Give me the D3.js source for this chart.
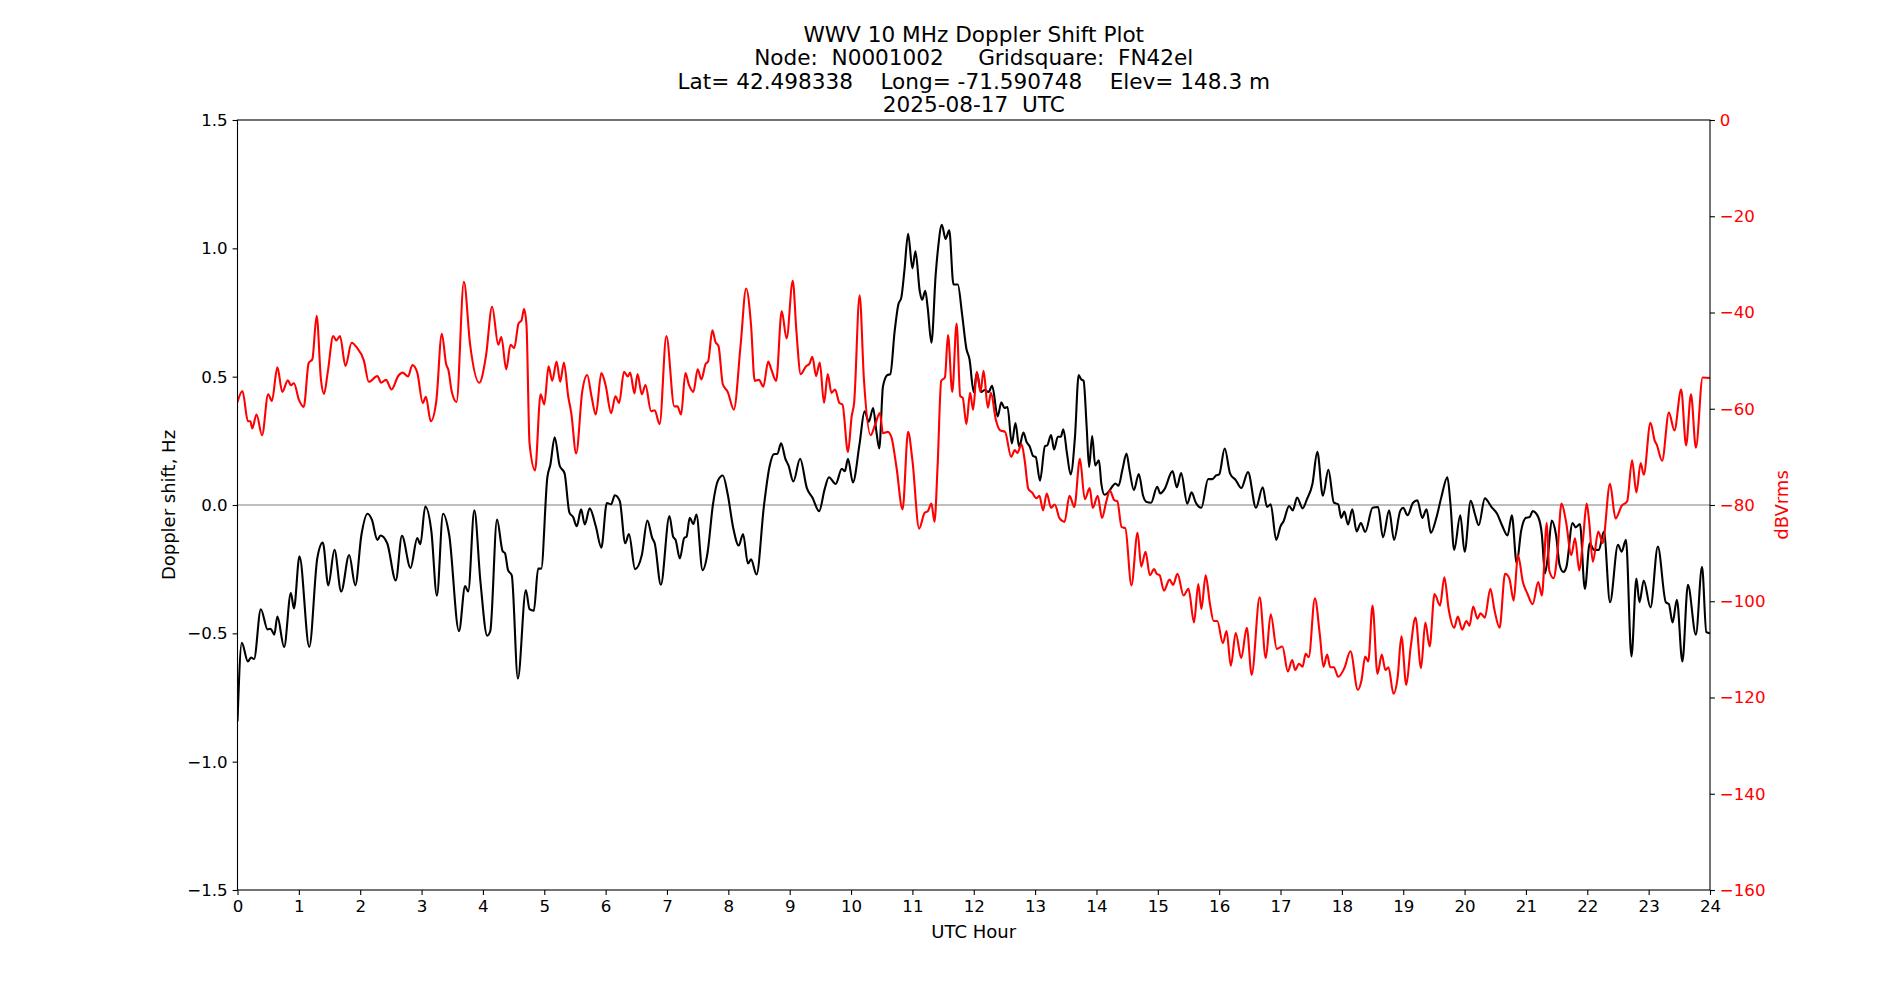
<!DOCTYPE html>
<html><head><meta charset="utf-8">
<script src="https://cdn.jsdelivr.net/npm/d3@7"></script>
<style>
body{margin:0;background:#fff;}
svg{display:block;font-family:"DejaVu Sans",sans-serif;}
</style>
</head><body>
<svg id="chart" width="1900" height="1000"></svg>
<script>
const titleLines = [
  "WWV 10 MHz Doppler Shift Plot",
  "Node:  N0001002     Gridsquare:  FN42el",
  "Lat= 42.498338    Long= -71.590748    Elev= 148.3 m",
  "2025-08-17  UTC"
];
const xLabel = "UTC Hour";
const leftLabel = "Doppler shift, Hz";
const rightLabel = "dBVrms";
const hourTicks = [0,1,2,3,4,5,6,7,8,9,10,11,12,13,14,15,16,17,18,19,20,21,22,23,24];
const dopplerTicks = [-1.5,-1.0,-0.5,0,0.5,1.0,1.5];
const powerTicks = [0,-20,-40,-60,-80,-100,-120,-140,-160];

// [UTC hour, Doppler shift Hz]
const dopplerPoints = [[0.00,-0.84],[0.07,-0.537],[0.17,-0.61],[0.22,-0.594],[0.27,-0.60],[0.38,-0.406],[0.49,-0.485],[0.54,-0.482],[0.60,-0.505],[0.65,-0.435],[0.76,-0.553],[0.87,-0.343],[0.92,-0.403],[1.01,-0.20],[1.17,-0.553],[1.30,-0.208],[1.39,-0.146],[1.48,-0.313],[1.58,-0.175],[1.69,-0.337],[1.82,-0.195],[1.92,-0.313],[2.02,-0.116],[2.12,-0.034],[2.19,-0.057],[2.28,-0.136],[2.33,-0.119],[2.44,-0.149],[2.58,-0.294],[2.68,-0.12],[2.82,-0.245],[2.93,-0.129],[2.98,-0.153],[3.06,-0.006],[3.16,-0.103],[3.25,-0.353],[3.35,-0.034],[3.45,-0.116],[3.61,-0.491],[3.71,-0.316],[3.76,-0.337],[3.86,-0.021],[3.96,-0.30],[4.07,-0.509],[4.12,-0.491],[4.23,-0.057],[4.32,-0.179],[4.36,-0.188],[4.41,-0.254],[4.47,-0.274],[4.57,-0.676],[4.70,-0.331],[4.76,-0.406],[4.83,-0.412],[4.90,-0.248],[4.95,-0.248],[5.05,0.108],[5.10,0.158],[5.17,0.264],[5.25,0.154],[5.33,0.124],[5.41,-0.03],[5.47,-0.047],[5.53,-0.083],[5.60,-0.017],[5.66,-0.076],[5.74,-0.013],[5.84,-0.083],[5.93,-0.166],[6.02,0.008],[6.09,0.003],[6.15,0.038],[6.23,0.016],[6.32,-0.149],[6.38,-0.113],[6.48,-0.25],[6.59,-0.195],[6.68,-0.061],[6.76,-0.129],[6.80,-0.149],[6.90,-0.311],[7.04,-0.043],[7.10,-0.123],[7.14,-0.136],[7.21,-0.208],[7.28,-0.129],[7.32,-0.123],[7.37,-0.05],[7.43,-0.074],[7.48,-0.037],[7.58,-0.254],[7.66,-0.188],[7.75,0.003],[7.83,0.095],[7.91,0.115],[7.99,0.042],[8.08,-0.09],[8.17,-0.158],[8.24,-0.113],[8.32,-0.228],[8.37,-0.212],[8.46,-0.271],[8.58,-0.004],[8.67,0.148],[8.74,0.198],[8.80,0.20],[8.86,0.24],[8.93,0.18],[8.98,0.154],[9.06,0.092],[9.17,0.18],[9.28,0.066],[9.37,0.029],[9.48,-0.024],[9.57,0.062],[9.64,0.108],[9.75,0.082],[9.85,0.141],[9.90,0.132],[9.95,0.18],[10.03,0.088],[10.14,0.24],[10.22,0.365],[10.29,0.325],[10.36,0.378],[10.41,0.292],[10.46,0.22],[10.52,0.461],[10.59,0.506],[10.64,0.51],[10.71,0.675],[10.77,0.78],[10.82,0.809],[10.87,0.914],[10.93,1.057],[11.00,0.922],[11.05,0.988],[11.12,0.833],[11.16,0.80],[11.21,0.835],[11.25,0.767],[11.31,0.632],[11.38,0.899],[11.42,1.004],[11.48,1.092],[11.54,1.037],[11.60,1.07],[11.67,0.859],[11.74,0.859],[11.81,0.743],[11.88,0.609],[11.93,0.569],[12.00,0.44],[12.05,0.516],[12.12,0.44],[12.18,0.448],[12.24,0.44],[12.30,0.464],[12.39,0.345],[12.45,0.40],[12.50,0.378],[12.55,0.382],[12.62,0.24],[12.68,0.319],[12.74,0.227],[12.81,0.282],[12.86,0.246],[12.91,0.229],[12.97,0.19],[13.01,0.187],[13.08,0.095],[13.16,0.229],[13.20,0.233],[13.26,0.273],[13.31,0.216],[13.37,0.266],[13.42,0.266],[13.46,0.295],[13.52,0.20],[13.58,0.119],[13.65,0.266],[13.71,0.506],[13.75,0.49],[13.79,0.484],[13.84,0.306],[13.88,0.148],[13.93,0.269],[13.98,0.154],[14.04,0.174],[14.08,0.082],[14.13,0.04],[14.19,0.049],[14.25,0.069],[14.31,0.084],[14.36,0.075],[14.42,0.134],[14.49,0.20],[14.54,0.134],[14.61,0.058],[14.69,0.121],[14.76,0.036],[14.81,0.013],[14.89,0.009],[14.99,0.071],[15.04,0.045],[15.11,0.062],[15.24,0.132],[15.31,0.069],[15.38,0.124],[15.48,0.005],[15.55,0.049],[15.62,0.009],[15.71,-0.011],[15.82,0.101],[15.89,0.101],[15.95,0.115],[16.00,0.119],[16.09,0.22],[16.18,0.121],[16.27,0.097],[16.36,0.066],[16.47,0.128],[16.60,-0.011],[16.71,0.069],[16.78,-0.008],[16.84,0.003],[16.93,-0.136],[17.00,-0.083],[17.05,-0.063],[17.14,-0.004],[17.20,-0.021],[17.27,0.029],[17.36,-0.013],[17.43,0.022],[17.52,0.082],[17.60,0.207],[17.69,0.036],[17.78,0.137],[17.87,0.009],[17.94,0.003],[17.99,-0.05],[18.04,-0.026],[18.10,-0.076],[18.17,-0.017],[18.24,-0.103],[18.31,-0.07],[18.38,-0.105],[18.50,-0.011],[18.59,-0.008],[18.67,-0.126],[18.77,-0.021],[18.85,-0.136],[18.95,-0.024],[19.00,-0.011],[19.07,-0.04],[19.16,0.009],[19.23,0.018],[19.31,-0.05],[19.38,-0.017],[19.45,-0.109],[19.54,-0.05],[19.62,0.029],[19.72,0.108],[19.77,0.003],[19.83,-0.175],[19.93,-0.04],[20.00,-0.182],[20.10,0.016],[20.17,-0.037],[20.23,-0.079],[20.33,0.026],[20.44,-0.008],[20.53,-0.034],[20.61,-0.079],[20.70,-0.119],[20.77,-0.04],[20.85,-0.228],[20.92,-0.103],[21.00,-0.05],[21.06,-0.047],[21.11,-0.024],[21.20,-0.047],[21.26,-0.116],[21.31,-0.267],[21.36,-0.195],[21.42,-0.061],[21.49,-0.116],[21.55,-0.235],[21.61,-0.261],[21.66,-0.241],[21.76,-0.07],[21.81,-0.087],[21.88,-0.074],[21.96,-0.327],[22.04,-0.149],[22.11,-0.175],[22.19,-0.175],[22.27,-0.103],[22.37,-0.379],[22.50,-0.155],[22.56,-0.182],[22.63,-0.136],[22.72,-0.59],[22.80,-0.287],[22.85,-0.379],[22.92,-0.294],[23.03,-0.399],[23.15,-0.162],[23.28,-0.379],[23.33,-0.386],[23.39,-0.458],[23.46,-0.369],[23.55,-0.61],[23.64,-0.311],[23.77,-0.505],[23.87,-0.241],[23.94,-0.495],[24.00,-0.50]];

// [UTC hour, dBVrms]
const powerPoints = [[0.00,-58.6],[0.08,-56.3],[0.17,-62.6],[0.21,-62.6],[0.24,-64.1],[0.31,-61.2],[0.40,-65.5],[0.50,-57.0],[0.56,-58.4],[0.65,-51.4],[0.73,-56.5],[0.82,-54.1],[0.87,-55.1],[0.92,-54.7],[1.00,-58.1],[1.08,-59.6],[1.16,-50.5],[1.22,-49.7],[1.29,-40.7],[1.36,-53.9],[1.41,-56.9],[1.47,-52.5],[1.56,-44.9],[1.61,-45.8],[1.67,-44.9],[1.76,-51.1],[1.86,-46.3],[1.94,-47.2],[2.06,-50.0],[2.14,-54.4],[2.28,-53.2],[2.34,-54.6],[2.42,-54.0],[2.51,-56.0],[2.62,-53.2],[2.69,-52.5],[2.78,-53.3],[2.85,-50.9],[2.93,-52.5],[3.02,-58.8],[3.07,-57.5],[3.15,-62.6],[3.24,-58.4],[3.33,-44.4],[3.40,-50.7],[3.44,-52.1],[3.49,-56.3],[3.57,-58.6],[3.69,-33.6],[3.79,-46.5],[3.94,-54.6],[4.05,-49.0],[4.15,-38.8],[4.25,-46.7],[4.30,-45.1],[4.38,-51.8],[4.45,-46.7],[4.51,-47.4],[4.58,-42.3],[4.63,-41.6],[4.67,-39.3],[4.71,-42.6],[4.76,-67.2],[4.85,-72.8],[4.94,-57.0],[5.00,-59.1],[5.07,-51.2],[5.13,-54.2],[5.20,-50.2],[5.26,-54.4],[5.32,-50.4],[5.39,-57.4],[5.44,-60.9],[5.52,-69.3],[5.62,-56.3],[5.70,-53.0],[5.77,-57.4],[5.84,-61.2],[5.93,-52.6],[6.00,-55.1],[6.09,-60.9],[6.16,-57.4],[6.22,-58.8],[6.30,-52.3],[6.36,-53.3],[6.40,-52.5],[6.47,-56.8],[6.52,-52.8],[6.59,-57.0],[6.65,-55.1],[6.74,-60.5],[6.80,-60.3],[6.88,-63.2],[6.99,-44.9],[7.12,-59.5],[7.17,-59.5],[7.23,-61.2],[7.30,-52.6],[7.36,-55.1],[7.43,-56.5],[7.50,-51.8],[7.56,-53.9],[7.63,-50.7],[7.67,-50.2],[7.74,-43.7],[7.79,-46.1],[7.84,-47.0],[7.91,-54.9],[7.99,-56.5],[8.09,-60.2],[8.20,-46.8],[8.29,-35.0],[8.37,-42.6],[8.43,-54.2],[8.50,-54.0],[8.57,-55.4],[8.65,-50.2],[8.70,-51.8],[8.78,-54.2],[8.87,-39.7],[8.95,-45.4],[9.05,-33.4],[9.11,-44.0],[9.18,-52.8],[9.27,-51.1],[9.32,-50.7],[9.37,-49.2],[9.43,-53.2],[9.49,-50.4],[9.56,-58.8],[9.62,-52.8],[9.68,-56.7],[9.74,-56.0],[9.81,-58.8],[9.86,-59.1],[9.95,-69.0],[10.01,-61.6],[10.05,-58.8],[10.14,-36.4],[10.21,-53.9],[10.32,-65.5],[10.39,-63.4],[10.47,-60.9],[10.52,-65.1],[10.60,-64.8],[10.66,-66.0],[10.74,-72.1],[10.84,-80.9],[10.93,-64.8],[11.00,-70.7],[11.11,-84.9],[11.20,-81.6],[11.25,-81.3],[11.31,-79.7],[11.36,-83.5],[11.41,-72.1],[11.47,-54.2],[11.53,-53.5],[11.58,-44.7],[11.65,-56.5],[11.72,-42.3],[11.78,-57.4],[11.82,-57.7],[11.88,-63.2],[11.94,-56.7],[11.99,-60.2],[12.05,-52.3],[12.11,-56.5],[12.16,-52.1],[12.23,-59.8],[12.28,-56.7],[12.36,-62.3],[12.43,-64.5],[12.51,-64.8],[12.61,-70.0],[12.67,-68.6],[12.71,-69.2],[12.78,-67.4],[12.83,-70.7],[12.89,-76.7],[12.95,-77.4],[13.02,-78.6],[13.07,-78.1],[13.13,-81.1],[13.19,-77.6],[13.26,-80.6],[13.32,-79.9],[13.40,-82.8],[13.48,-83.5],[13.56,-78.1],[13.64,-80.4],[13.73,-70.4],[13.81,-78.8],[13.89,-76.5],[13.94,-80.6],[14.02,-78.1],[14.09,-82.7],[14.16,-79.3],[14.22,-77.0],[14.29,-79.0],[14.34,-79.2],[14.41,-84.6],[14.47,-84.8],[14.57,-96.7],[14.67,-85.8],[14.73,-92.8],[14.80,-89.7],[14.87,-94.6],[14.94,-93.3],[14.98,-94.3],[15.03,-94.6],[15.10,-97.8],[15.19,-95.5],[15.25,-96.6],[15.32,-94.3],[15.42,-98.8],[15.50,-97.4],[15.59,-104.4],[15.66,-96.4],[15.71,-101.6],[15.78,-94.6],[15.85,-100.6],[15.91,-104.1],[15.97,-104.1],[16.06,-108.7],[16.12,-106.2],[16.19,-113.4],[16.27,-106.6],[16.36,-111.8],[16.45,-105.5],[16.53,-115.3],[16.66,-99.2],[16.76,-111.8],[16.84,-102.7],[16.94,-109.9],[17.03,-109.4],[17.12,-114.6],[17.19,-112.2],[17.24,-114.3],[17.30,-113.0],[17.36,-113.6],[17.41,-110.9],[17.46,-111.6],[17.56,-99.4],[17.64,-106.9],[17.70,-113.6],[17.76,-111.1],[17.81,-113.7],[17.87,-113.7],[17.94,-115.7],[18.04,-113.9],[18.14,-110.4],[18.26,-118.4],[18.32,-116.4],[18.38,-111.5],[18.43,-112.5],[18.50,-100.9],[18.58,-115.1],[18.65,-111.1],[18.71,-114.3],[18.76,-113.7],[18.84,-119.2],[18.91,-115.7],[18.97,-107.3],[19.05,-117.4],[19.12,-109.7],[19.20,-103.4],[19.29,-113.9],[19.36,-104.4],[19.43,-109.4],[19.51,-98.5],[19.60,-100.9],[19.67,-95.0],[19.74,-101.6],[19.83,-105.5],[19.89,-103.2],[19.96,-105.9],[20.03,-104.1],[20.08,-105.1],[20.14,-101.1],[20.21,-103.6],[20.26,-102.5],[20.33,-103.4],[20.42,-97.4],[20.49,-102.0],[20.57,-105.5],[20.66,-94.3],[20.73,-95.3],[20.80,-99.9],[20.87,-90.4],[20.95,-96.0],[21.02,-98.3],[21.11,-100.6],[21.20,-96.0],[21.26,-98.8],[21.34,-83.7],[21.38,-93.6],[21.45,-95.2],[21.51,-90.4],[21.58,-79.7],[21.65,-83.2],[21.74,-90.4],[21.80,-86.9],[21.87,-93.6],[21.93,-87.2],[21.99,-79.7],[22.03,-83.4],[22.09,-91.8],[22.18,-85.5],[22.25,-87.9],[22.37,-75.6],[22.46,-82.8],[22.56,-80.2],[22.65,-79.2],[22.73,-70.7],[22.80,-77.4],[22.87,-71.3],[22.92,-73.7],[23.03,-62.9],[23.10,-66.7],[23.13,-67.4],[23.22,-70.8],[23.33,-60.8],[23.42,-64.5],[23.53,-56.0],[23.61,-67.6],[23.69,-57.0],[23.77,-68.1],[23.88,-53.5],[24.00,-53.6]];

(function () {
const W = 1900, H = 1000;
const pL = 237.5, pR = 1710, pT = 120, pB = 890;
const TICK_FS = 16.67, LABEL_FS = 18, TITLE_FS = 21.6;

const x = d3.scaleLinear().domain([0, 24]).range([pL, pR]);
const yL = d3.scaleLinear().domain([-1.5, 1.5]).range([pB, pT]);
const yR = d3.scaleLinear().domain([-160, 0]).range([pB, pT]);

const svg = d3.select("#chart");
svg.append("rect").attr("width", W).attr("height", H).attr("fill", "#fff");

// Title
const title = svg.append("text")
  .attr("text-anchor", "middle")
  .attr("font-size", TITLE_FS)
  .attr("fill", "#000")
  .attr("xml:space", "preserve")
  .style("white-space", "pre");
titleLines.forEach((t, i) => {
  title.append("tspan").attr("x", (pL + pR) / 2).attr("y", 42 + i * 23.3).text(t);
});

svg.append("clipPath").attr("id", "plotclip")
  .append("rect").attr("x", pL).attr("y", pT).attr("width", pR - pL).attr("height", pB - pT);

const plot = svg.append("g").attr("clip-path", "url(#plotclip)");

// zero reference line
plot.append("line")
  .attr("x1", x(0)).attr("x2", x(24))
  .attr("y1", yL(0)).attr("y2", yL(0))
  .attr("stroke", "#808080").attr("stroke-width", 1.2);

const lineL = d3.line().x(d => x(d[0])).y(d => yL(d[1])).curve(d3.curveMonotoneX);
const lineR = d3.line().x(d => x(d[0])).y(d => yR(d[1])).curve(d3.curveMonotoneX);

plot.append("path").datum(dopplerPoints)
  .attr("d", lineL).attr("fill", "none").attr("stroke", "#000")
  .attr("stroke-width", 2.1).attr("stroke-linejoin", "round").attr("stroke-linecap", "round");

plot.append("path").datum(powerPoints)
  .attr("d", lineR).attr("fill", "none").attr("stroke", "#ff0000")
  .attr("stroke-width", 2.1).attr("stroke-linejoin", "round").attr("stroke-linecap", "round");

// Frame
svg.append("rect")
  .attr("x", pL).attr("y", pT).attr("width", pR - pL).attr("height", pB - pT)
  .attr("fill", "none").attr("stroke", "#000").attr("stroke-width", 1.1);

function styleAxis(g, color) {
  g.select(".domain").remove();
  g.attr("font-size", TICK_FS).attr("font-family", "DejaVu Sans");
  g.selectAll(".tick line").attr("stroke", "#000").attr("stroke-width", 1.1);
  g.selectAll(".tick text").attr("fill", color);
}

const gx = svg.append("g").attr("transform", `translate(0,${pB})`)
  .call(d3.axisBottom(x).tickValues(hourTicks).tickFormat(d3.format("d")).tickSize(4.9).tickPadding(4.8).tickSizeOuter(0));
styleAxis(gx, "#000");

const gl = svg.append("g").attr("transform", `translate(${pL},0)`)
  .call(d3.axisLeft(yL).tickValues(dopplerTicks).tickFormat(d3.format(".1f")).tickSize(4.9).tickPadding(4.9).tickSizeOuter(0));
styleAxis(gl, "#000");

const gr = svg.append("g").attr("transform", `translate(${pR},0)`)
  .call(d3.axisRight(yR).tickValues(powerTicks).tickFormat(d3.format("d")).tickSize(4.9).tickPadding(4.9).tickSizeOuter(0));
styleAxis(gr, "#ff0000");

// Axis labels
svg.append("text").attr("x", (pL + pR) / 2).attr("y", 938)
  .attr("text-anchor", "middle").attr("font-size", LABEL_FS).attr("fill", "#000").text(xLabel);

svg.append("text").attr("transform", `translate(174.5,${(pT + pB) / 2}) rotate(-90)`)
  .attr("text-anchor", "middle").attr("font-size", LABEL_FS).attr("fill", "#000").text(leftLabel);

svg.append("text").attr("transform", `translate(1788,${(pT + pB) / 2}) rotate(-90)`)
  .attr("text-anchor", "middle").attr("font-size", LABEL_FS).attr("fill", "#ff0000").text(rightLabel);
})();
</script>
</body></html>
